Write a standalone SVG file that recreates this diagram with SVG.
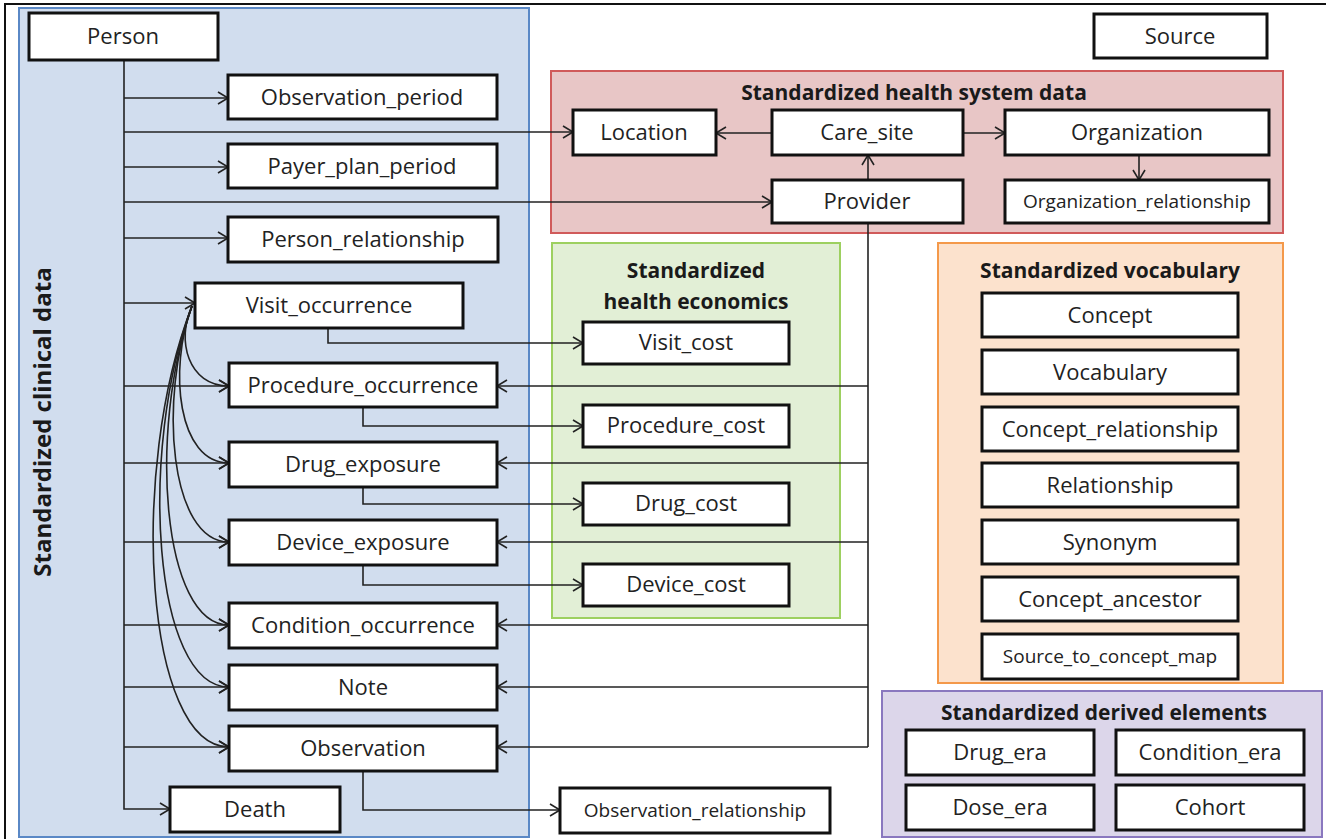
<svg xmlns="http://www.w3.org/2000/svg" width="1326" height="839" viewBox="0 0 1326 839">
<style>
.node rect{fill:#ffffff;stroke:#111;stroke-width:3}
.node text{font-family:"Open Sans","Liberation Sans",sans-serif;font-size:22px;fill:#222;text-anchor:middle}
.node text.sm{font-size:19px}
.title{font-family:"Open Sans","Liberation Sans",sans-serif;font-weight:bold;font-size:21px;fill:#1a1a1a;text-anchor:middle}
.conn path{fill:none;stroke:#222;stroke-width:1.6}
.arr{marker-end:url(#ah)}
</style>
<defs>
<marker id="ah" markerWidth="13" markerHeight="14" refX="11" refY="7" orient="auto" markerUnits="userSpaceOnUse">
<path d="M1,1 L11,7 L1,13" fill="none" stroke="#222" stroke-width="1.6"/>
</marker>
</defs>
<rect x="0" y="0" width="1326" height="839" fill="#ffffff"/>
<rect x="5" y="4" width="1340" height="850" fill="none" stroke="#111" stroke-width="2"/>

<g id="panel-clinical">
<rect x="19" y="8" width="510" height="829" fill="#d1ddee" stroke="#5a88c6" stroke-width="2"/>
<text class="title" transform="translate(51,422) rotate(-90)" style="font-size:24px">Standardized clinical data</text>
</g>
<g id="panel-health-system">
<rect x="551" y="71" width="732" height="162" fill="#e8c6c6" stroke="#d05a5a" stroke-width="2"/>
<text class="title" x="914" y="100">Standardized health system data</text>
</g>
<g id="panel-economics">
<rect x="552" y="243" width="288" height="375" fill="#e2efd6" stroke="#9dd060" stroke-width="2"/>
<text class="title" x="696" y="278">Standardized</text>
<text class="title" x="696" y="309">health economics</text>
</g>
<g id="panel-vocabulary">
<rect x="938" y="243" width="345" height="440" fill="#fce2cd" stroke="#f4994a" stroke-width="2"/>
<text class="title" x="1110" y="278">Standardized vocabulary</text>
</g>
<g id="panel-derived">
<rect x="882" y="691" width="440" height="146" fill="#dcd6ea" stroke="#8a78bf" stroke-width="2"/>
<text class="title" x="1104" y="720">Standardized derived elements</text>
</g>

<g id="connectors" class="conn">
<path d="M124,60 V809 H170" class="arr"/>
<path d="M124,98 H228" class="arr"/>
<path d="M124,167 H228" class="arr"/>
<path d="M124,238 H228" class="arr"/>
<path d="M124,303 H195" class="arr"/>
<path d="M124,386 H229" class="arr"/>
<path d="M124,463 H229" class="arr"/>
<path d="M124,542 H229" class="arr"/>
<path d="M124,625 H229" class="arr"/>
<path d="M124,687 H229" class="arr"/>
<path d="M124,747 H229" class="arr"/>
<path d="M124,132 H573" class="arr"/>
<path d="M124,202 H772" class="arr"/>
<path d="M328,328 V343 H583" class="arr"/>
<path d="M363,407 V426 H583" class="arr"/>
<path d="M363,487 V504 H583" class="arr"/>
<path d="M363,565 V585 H583" class="arr"/>
<path d="M363,771 V810 H560" class="arr"/>
<path d="M772,133 H716" class="arr"/>
<path d="M963,133 H1005" class="arr"/>
<path d="M1139,155 V180" class="arr"/>
<path d="M868,180 V155" class="arr"/>
<path d="M868,223 V747"/>
<path d="M868,386 H497" class="arr"/>
<path d="M868,463 H497" class="arr"/>
<path d="M868,542 H497" class="arr"/>
<path d="M868,625 H497" class="arr"/>
<path d="M868,687 H497" class="arr"/>
<path d="M868,747 H497" class="arr"/>
<path d="M192,306 C176,340 188,386 229,386" class="arr"/>
<path d="M192,306 C168,370 178,463 229,463" class="arr"/>
<path d="M192,306 C158,400 170,542 229,542" class="arr"/>
<path d="M192,306 C148,430 162,625 229,625" class="arr"/>
<path d="M192,306 C138,450 153,687 229,687" class="arr"/>
<path d="M192,306 C128,470 145,747 229,747" class="arr"/>
</g>

<g id="person" class="node"><rect x="29" y="13" width="189" height="47"/><text x="123" y="44">Person</text></g>
<g id="observation_period" class="node"><rect x="228" y="75" width="269" height="44"/><text x="362" y="105">Observation_period</text></g>
<g id="payer_plan_period" class="node"><rect x="228" y="144" width="269" height="44"/><text x="362" y="174">Payer_plan_period</text></g>
<g id="person_relationship" class="node"><rect x="228" y="217" width="270" height="45"/><text x="363" y="247">Person_relationship</text></g>
<g id="visit_occurrence" class="node"><rect x="195" y="283" width="268" height="45"/><text x="329" y="313">Visit_occurrence</text></g>
<g id="procedure_occurrence" class="node"><rect x="229" y="363" width="268" height="44"/><text x="363" y="393">Procedure_occurrence</text></g>
<g id="drug_exposure" class="node"><rect x="229" y="442" width="268" height="45"/><text x="363" y="472">Drug_exposure</text></g>
<g id="device_exposure" class="node"><rect x="229" y="520" width="268" height="45"/><text x="363" y="550">Device_exposure</text></g>
<g id="condition_occurrence" class="node"><rect x="229" y="603" width="268" height="45"/><text x="363" y="633">Condition_occurrence</text></g>
<g id="note" class="node"><rect x="229" y="665" width="268" height="45"/><text x="363" y="695">Note</text></g>
<g id="observation" class="node"><rect x="229" y="726" width="268" height="45"/><text x="363" y="756">Observation</text></g>
<g id="death" class="node"><rect x="170" y="787" width="170" height="45"/><text x="255" y="817">Death</text></g>
<g id="observation_relationship" class="node"><rect x="560" y="788" width="270" height="45"/><text class="sm" x="695" y="817">Observation_relationship</text></g>

<g id="visit_cost" class="node"><rect x="583" y="322" width="206" height="42"/><text x="686" y="350">Visit_cost</text></g>
<g id="procedure_cost" class="node"><rect x="583" y="405" width="206" height="42"/><text x="686" y="433">Procedure_cost</text></g>
<g id="drug_cost" class="node"><rect x="583" y="483" width="206" height="42"/><text x="686" y="511">Drug_cost</text></g>
<g id="device_cost" class="node"><rect x="583" y="564" width="206" height="42"/><text x="686" y="592">Device_cost</text></g>

<g id="source" class="node"><rect x="1094" y="14" width="173" height="44"/><text x="1180" y="44">Source</text></g>
<g id="location" class="node"><rect x="573" y="110" width="143" height="45"/><text x="644" y="140">Location</text></g>
<g id="care_site" class="node"><rect x="772" y="110" width="191" height="45"/><text x="867" y="140">Care_site</text></g>
<g id="organization" class="node"><rect x="1005" y="110" width="264" height="45"/><text x="1137" y="140">Organization</text></g>
<g id="provider" class="node"><rect x="772" y="180" width="191" height="43"/><text x="867" y="209">Provider</text></g>
<g id="organization_relationship" class="node"><rect x="1005" y="180" width="264" height="43"/><text class="sm" x="1137" y="208">Organization_relationship</text></g>

<g id="concept" class="node"><rect x="982" y="293" width="256" height="44"/><text x="1110" y="323">Concept</text></g>
<g id="vocabulary" class="node"><rect x="982" y="350" width="256" height="44"/><text x="1110" y="380">Vocabulary</text></g>
<g id="concept_relationship" class="node"><rect x="982" y="407" width="256" height="44"/><text x="1110" y="437">Concept_relationship</text></g>
<g id="relationship" class="node"><rect x="982" y="463" width="256" height="44"/><text x="1110" y="493">Relationship</text></g>
<g id="synonym" class="node"><rect x="982" y="520" width="256" height="44"/><text x="1110" y="550">Synonym</text></g>
<g id="concept_ancestor" class="node"><rect x="982" y="577" width="256" height="44"/><text x="1110" y="607">Concept_ancestor</text></g>
<g id="source_to_concept_map" class="node"><rect x="982" y="634" width="256" height="45"/><text class="sm" x="1110" y="663">Source_to_concept_map</text></g>

<g id="drug_era" class="node"><rect x="906" y="730" width="188" height="45"/><text x="1000" y="760">Drug_era</text></g>
<g id="condition_era" class="node"><rect x="1116" y="730" width="188" height="45"/><text x="1210" y="760">Condition_era</text></g>
<g id="dose_era" class="node"><rect x="906" y="785" width="188" height="45"/><text x="1000" y="815">Dose_era</text></g>
<g id="cohort" class="node"><rect x="1116" y="785" width="188" height="45"/><text x="1210" y="815">Cohort</text></g>
</svg>
